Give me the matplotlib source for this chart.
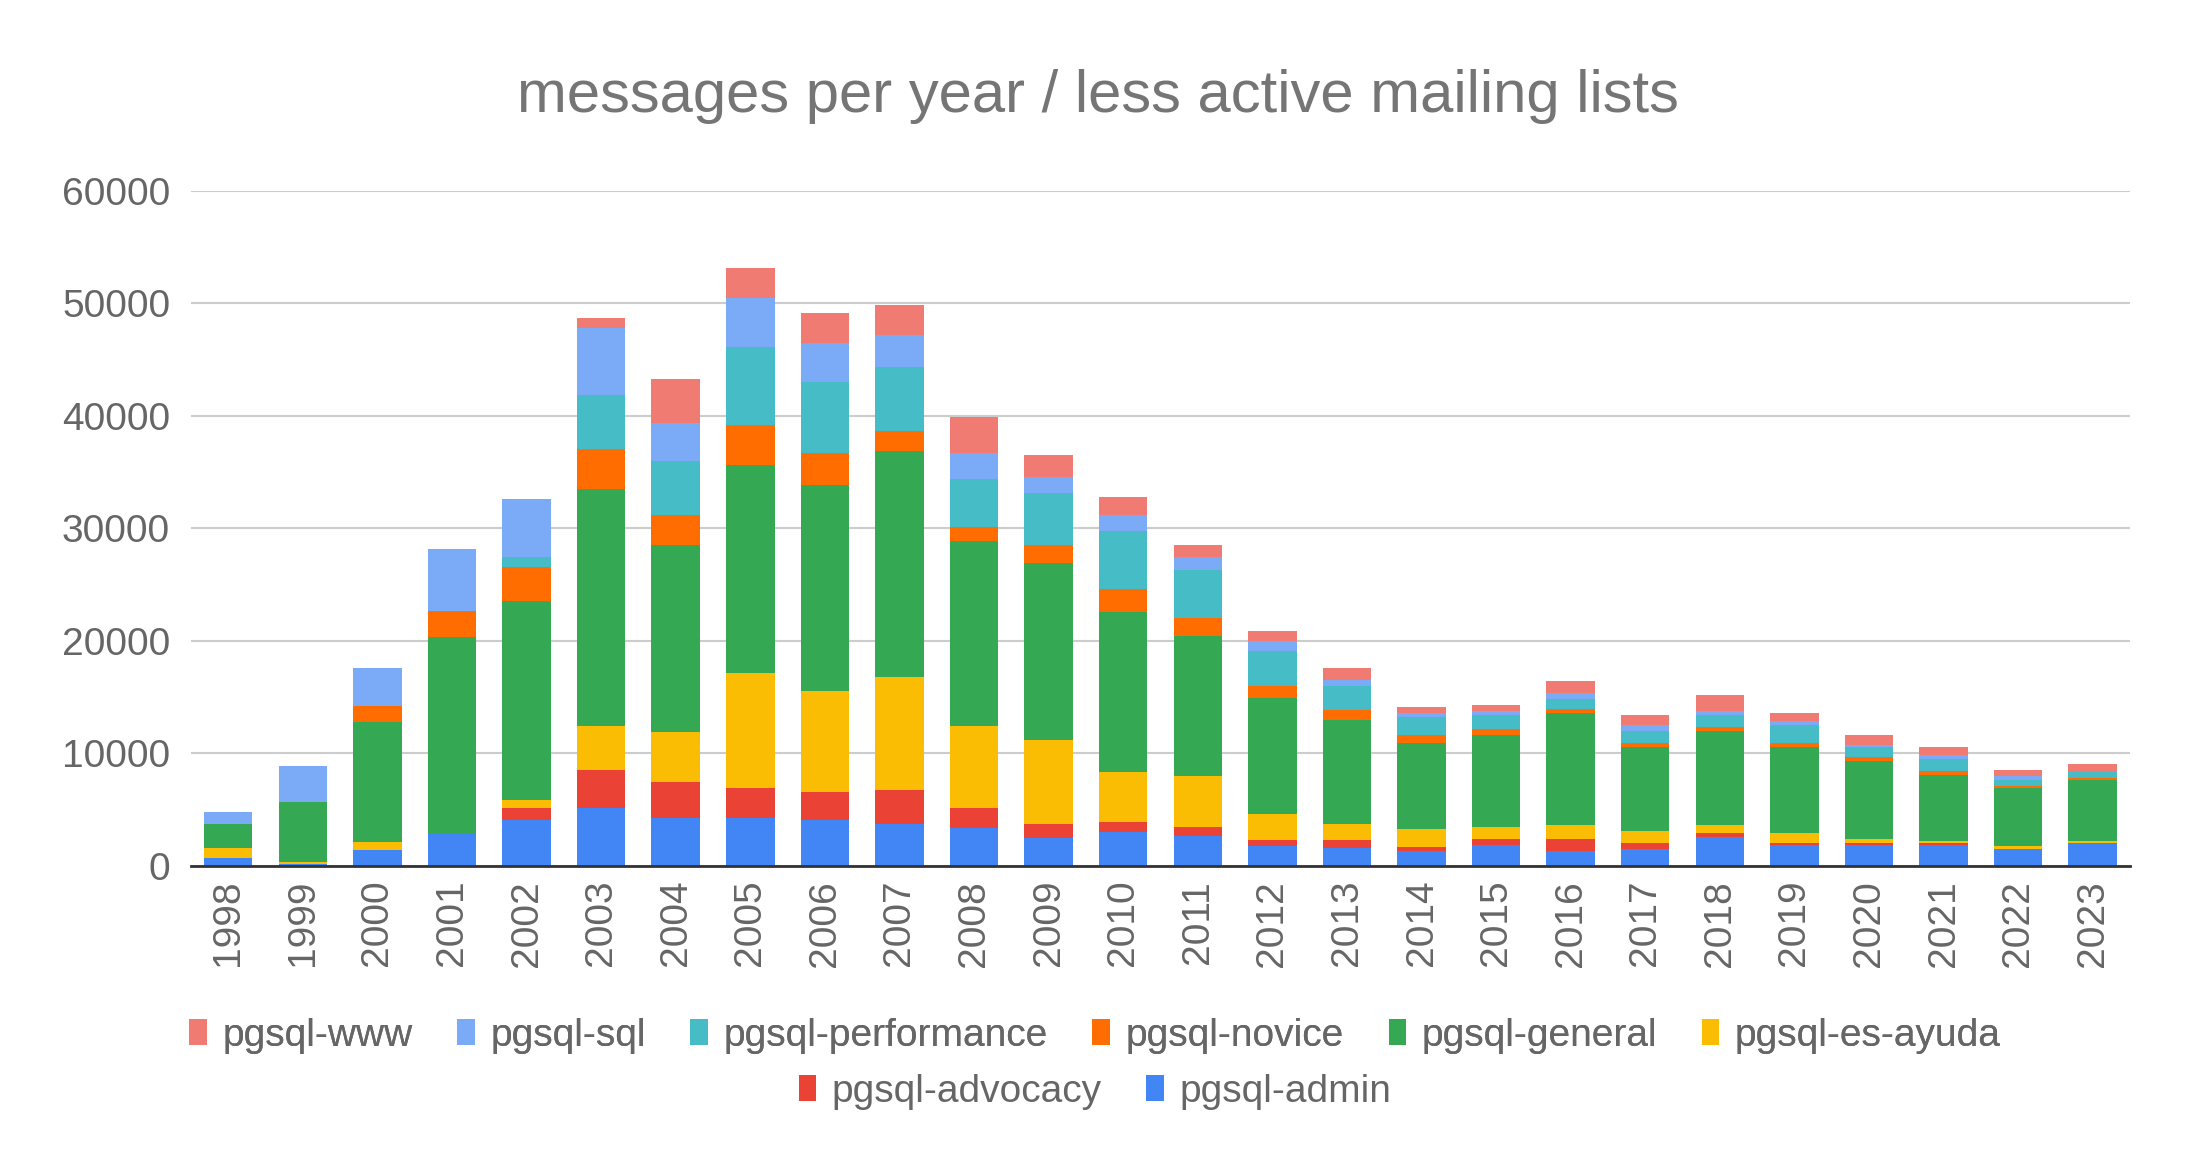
import matplotlib
matplotlib.use("Agg")
import matplotlib.pyplot as plt
import numpy as np

# Data
years = [str(y) for y in range(1998, 2024)]
admin = [720, 160, 1430, 2865, 4060, 5175, 4220, 4220, 4060, 3740, 3345, 2470, 3025,
         2625, 1750, 1590, 1310, 1845, 1310, 1490, 2560, 1845, 1845, 1845, 1490, 2025]
advocacy = [0, 0, 0, 0, 1115, 3385, 3265, 2745, 2545, 3025, 1830, 1275, 875,
            875, 555, 715, 355, 535, 1070, 535, 355, 180, 180, 180, 60, 40]
es_ayuda = [875, 200, 715, 0, 715, 3900, 4460, 10150, 8915, 9990, 7285, 7480, 4460,
            4500, 2310, 1435, 1605, 1070, 1250, 1070, 715, 895, 355, 180, 180, 180]
general = [2150, 5330, 10665, 17470, 17630, 21050, 16560, 18545, 18310, 20100, 16440, 15680, 14250,
           12460, 10350, 9235, 7680, 8215, 10000, 7500, 8390, 7680, 6965, 5890, 5180, 5355]
novice = [0, 0, 1430, 2310, 3025, 3580, 2705, 3500, 2865, 1830, 1195, 1590, 1990,
          1590, 1035, 875, 715, 535, 355, 355, 355, 355, 355, 355, 180, 180]
performance = [0, 0, 0, 0, 915, 4815, 4775, 7005, 6290, 5650, 4300, 4615, 5175,
               4300, 3065, 2150, 1605, 1250, 895, 1070, 1070, 1605, 895, 1070, 535, 535]
sql = [1075, 3225, 3385, 5530, 5175, 5890, 3425, 4300, 3500, 2865, 2310, 1435, 1435,
       1115, 915, 555, 355, 355, 535, 535, 355, 355, 180, 355, 355, 60]
www = [0, 0, 0, 0, 0, 875, 3900, 2665, 2705, 2705, 3185, 1990, 1590,
       1075, 875, 1075, 535, 535, 1070, 895, 1430, 715, 895, 715, 535, 715]

series = [
    ("pgsql-admin", admin, "#4285F4"),
    ("pgsql-advocacy", advocacy, "#EA4335"),
    ("pgsql-es-ayuda", es_ayuda, "#FBBC04"),
    ("pgsql-general", general, "#34A853"),
    ("pgsql-novice", novice, "#FF6D01"),
    ("pgsql-performance", performance, "#46BDC6"),
    ("pgsql-sql", sql, "#7BAAF7"),
    ("pgsql-www", www, "#F07B72"),
]

plt.rcParams['font.family'] = ['Liberation Sans', 'DejaVu Sans']
text_col = "#666666"

fig = plt.figure(figsize=(21.9, 11.74), dpi=100)
ax = fig.add_axes([0.0872, 0.2624, 0.8854, 0.5749])

x = np.arange(len(years))
bottom = np.zeros(len(years))
handles = {}
for name, vals, col in series:
    vals = np.array(vals, dtype=float)
    b = ax.bar(x, vals, 0.65, bottom=bottom, color=col, label=name, zorder=3)
    handles[name] = b
    bottom += vals

ax.set_xlim(-0.5, len(years) - 0.5)
ax.set_ylim(0, 60000)
ax.set_yticks(range(0, 60001, 10000))
ax.set_xticks(x)
ax.set_xticklabels(years, rotation=90)
ax.grid(axis="y", color="#cccccc", linewidth=1.5, zorder=0)
ax.tick_params(axis="y", length=0, pad=15, labelsize=28, labelcolor=text_col)
ax.tick_params(axis="x", length=0, pad=10, labelsize=28, labelcolor=text_col)
for s in ["top", "right", "left"]:
    ax.spines[s].set_visible(False)
ax.spines["bottom"].set_color("#333333")
ax.spines["bottom"].set_linewidth(2)
ax.spines["bottom"].set_zorder(4)

fig.text(0.5015, 0.918, "messages per year / less active mailing lists",
         ha="center", va="center", fontsize=43, color="#757575")

# Legend in two rows
order = ["pgsql-www", "pgsql-sql", "pgsql-performance", "pgsql-novice",
         "pgsql-general", "pgsql-es-ayuda", "pgsql-advocacy", "pgsql-admin"]
row1 = order[:6]
row2 = order[6:]
leg1 = fig.legend([handles[n] for n in row1], row1, loc="center", bbox_to_anchor=(0.5, 0.1175),
                  ncol=6, frameon=False, fontsize=28, labelcolor=text_col,
                  handlelength=0.45, handleheight=0.65, handletextpad=0.4, columnspacing=1.15)
fig.add_artist(leg1)
fig.legend([handles[n] for n in row2], row2, loc="center", bbox_to_anchor=(0.5, 0.0698),
           ncol=2, frameon=False, fontsize=28, labelcolor=text_col,
           handlelength=0.45, handleheight=0.65, handletextpad=0.4, columnspacing=1.15)

fig.savefig("out.png", dpi=100)
